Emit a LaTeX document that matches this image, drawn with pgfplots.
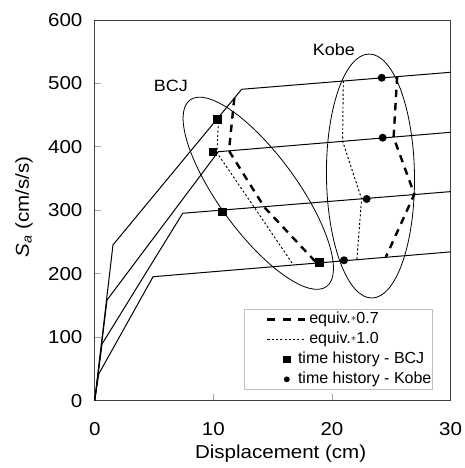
\documentclass[border=0pt]{standalone}
\usepackage{fontspec}
\setmainfont{Liberation Sans}[FakeStretch=1.1]
\newfontfamily\legfont{Liberation Sans}
\usepackage{pgfplots}
\pgfplotsset{compat=1.18}
\usetikzlibrary{shapes.geometric}

\newcommand{\eqstar}{\raisebox{1.6pt}{\scalebox{0.7}{$\ast$}}}

\pgfplotsset{
  dashleg/.style={legend image code/.code={\path[draw=none] (0pt,0pt) (45pt,0pt); \draw[##1, dash pattern=on 6pt off 5.5pt] (16.5pt,0pt) -- (45pt,0pt);}},
  dotleg/.style={legend image code/.code={\path[draw=none] (0pt,0pt) (45pt,0pt); \draw[##1] (16.5pt,0pt) -- (45pt,0pt);}},
  sqleg/.style={legend image code/.code={\path[draw=none] (0pt,0pt) (45pt,0pt); \draw[##1, mark size=2.4pt] plot coordinates {(31pt,0pt)};}},
  ciLeg/.style={legend image code/.code={\path[draw=none] (0pt,0pt) (45pt,0pt); \draw[##1, mark size=1.9pt] plot coordinates {(31pt,0pt)};}},
}

\begin{document}
\begin{tikzpicture}
\useasboundingbox (-71.03pt,-50.48pt) rectangle (276.98pt,300.5pt);
\begin{axis}[
  at={(0,0)}, anchor=south west,
  scale only axis, width=266.85pt, height=285.5pt,
  xmin=0, xmax=30, ymin=0, ymax=600,
  xtick={0,10,20,30}, ytick={0,100,200,300,400,500,600},
  tick align=inside, xtick pos=left, ytick pos=left,
  major tick length=5pt,
  major tick style={black!35, line width=0.6pt},
  axis line style={black!75, line width=0.75pt},
  /pgf/number format/assume math mode=true,
  ticklabel style={font=\fontsize{14}{16}\selectfont},
  yticklabel style={xshift=-5.7pt},
  xticklabel style={yshift=-12.8pt},
  xlabel={Displacement (cm)},
  xlabel style={font=\fontsize{14}{16}\selectfont, at={(axis description cs:0.5,0)}, anchor=base, xshift=6pt, yshift=-43.2pt},
  ylabel={\textit{S}\textsubscript{\textit{a}} (cm/s/s)},
  ylabel style={font=\fontsize{14}{16}\selectfont, at={(axis description cs:-0.1987,0.5088)}, anchor=center},
  legend style={at={(rel axis cs:1,0)}, anchor=south east, xshift=-13.1pt, yshift=8pt,
    draw=black!25, line width=0.5pt, fill=white, inner xsep=1pt, inner ysep=2pt,
    row sep=3.5pt, column sep=2pt,
    font=\legfont\fontsize{12}{14}\selectfont,
    nodes={inner sep=0pt, text height=9pt, text depth=2.5pt}},
  legend cell align=left,
]
% capacity curves
\addplot[black, line width=0.75pt, forget plot] coordinates {(0,0) (1.54,245.5) (12.39,490.8) (30,517.6)};
\addplot[black, line width=0.75pt, forget plot] coordinates {(0,0) (1.04,158.7) (10.42,392.4) (30,423)};
\addplot[black, line width=0.75pt, forget plot] coordinates {(0,0) (0.62,89.4) (7.42,295.4) (30,329.5)};
\addplot[black, line width=0.75pt, forget plot] coordinates {(0,0) (0.34,42.1) (4.92,195.4) (30,234.5)};

% ellipses and labels
\node[draw, ellipse, line width=0.6pt, inner sep=0pt, minimum width=173.4pt, minimum height=58.5pt, rotate=-53.8] at (axis cs:13.79,326.9) {};
\node[draw, ellipse, line width=0.6pt, inner sep=0pt, minimum width=66pt, minimum height=183pt, rotate=0.7] at (axis cs:23.25,354.1) {};
\node[font=\fontsize{12.25}{14}\selectfont] at (axis cs:6.42,496.3) {BCJ};
\node[font=\fontsize{12.25}{14}\selectfont] at (axis cs:20.16,554) {Kobe};

% equivalent linearization, BCJ
\addplot[black, line width=1.8pt, dash pattern=on 5.5pt off 4.5pt, dashleg]
  coordinates {(11.77,477) (11.32,393.8) (14.3,305) (18.7,217.3)};
\addplot[black, line width=0.7pt, dash pattern=on 1.6pt off 1.6pt, dotleg]
  coordinates {(10.45,446) (10.3,391) (13.46,304.5) (16.75,214)};
% equivalent linearization, Kobe
\addplot[black, line width=1.8pt, dash pattern=on 5.5pt off 4.5pt, forget plot]
  coordinates {(25.5,511) (25.2,415) (26.95,325.5) (24.55,226.5)};
\addplot[black, line width=0.7pt, dash pattern=on 1.6pt off 1.6pt, forget plot]
  coordinates {(20.96,504) (20.9,409) (22.5,318) (22.1,222)};

% time history results
\addplot[black, only marks, mark=square*, mark size=2.75pt, sqleg]
  coordinates {(10.34,443.5) (9.95,392) (10.76,297.9) (18.94,218.1)};
\addplot[black, only marks, mark=*, mark size=2.75pt, ciLeg]
  coordinates {(24.2,509) (24.28,414.5) (22.93,317.9) (21.02,221.3)};

\legend{equiv.\eqstar0.7, equiv.\eqstar1.0, \hspace*{-8.5pt}time history - BCJ, \hspace*{-8.5pt}time history - Kobe}
\end{axis}
\end{tikzpicture}
\end{document}
